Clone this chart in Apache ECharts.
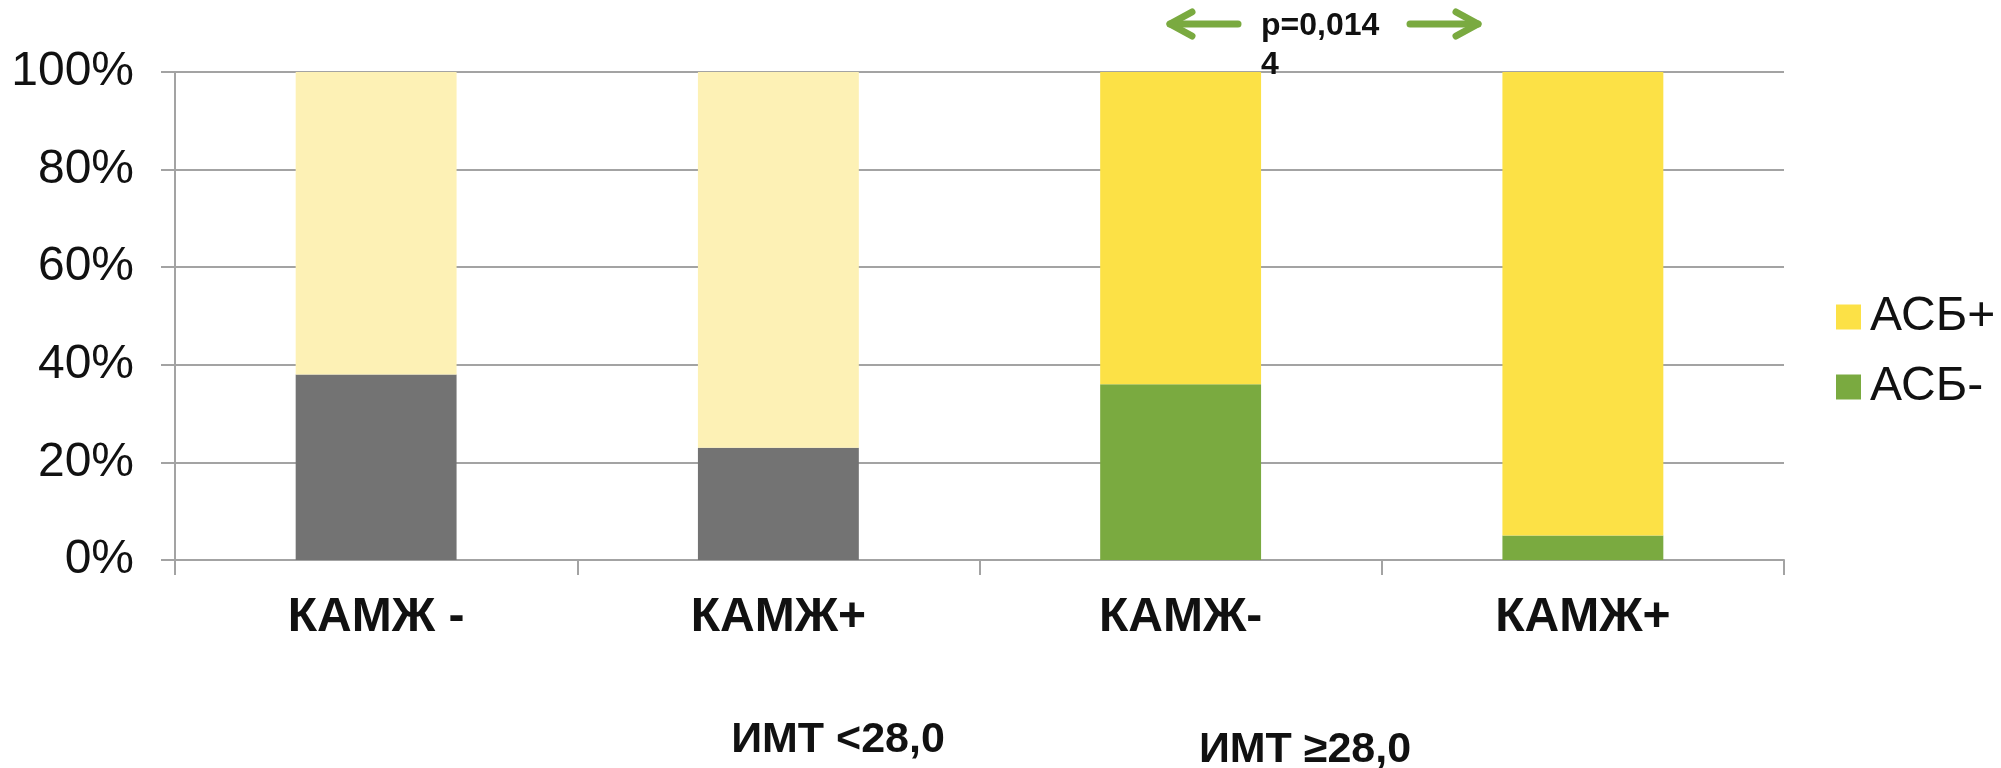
<!DOCTYPE html>
<html>
<head>
<meta charset="utf-8">
<script src="https://cdn.jsdelivr.net/npm/echarts@6/dist/echarts.min.js"></script>
<style>
  html, body { margin: 0; padding: 0; background: #fff; }
  #chart { width: 2001px; height: 768px; }
</style>
</head>
<body>
<div id="chart"></div>
<script>
// Categories along the x axis
const categories = ['КАМЖ -', 'КАМЖ+', 'КАМЖ-', 'КАМЖ+'];
// Share of patients, %
const asbNeg = [38, 23, 36, 5];
const asbPos = [62, 77, 64, 95];
// Y axis ticks
const yTicks = [0, 20, 40, 60, 80, 100];
// Group captions under the axis
const groupLabels = ['ИМТ <28,0', 'ИМТ ≥28,0'];
const pValueText = 'p=0,014\n4';

const FONT = '"Liberation Sans", Arial, sans-serif';
const GRAY = '#737373';
const PALE = '#FDF1B5';
const YELLOW = '#FCE146';
const GREEN = '#7AAA40';
const TEXT = '#111111';
const LINE = '#A3A3A3';

// first two columns (ИМТ <28,0) are drawn in neutral tones
const negColors = [GRAY, GRAY, GREEN, GREEN];
const posColors = [PALE, PALE, YELLOW, YELLOW];

const chart = echarts.init(document.getElementById('chart'), null, { renderer: 'canvas' });

const arrowStyle = { stroke: GREEN, lineWidth: 7, lineCap: 'round', lineJoin: 'round', fill: null };

chart.setOption({
  animation: false,
  backgroundColor: '#fff',
  textStyle: { fontFamily: FONT },
  grid: { left: 175, right: 217, top: 72, bottom: 208, containLabel: false, outerBoundsMode: 'none' },
  legend: {
    data: ['АСБ+', 'АСБ-'],
    orient: 'vertical',
    left: 1831,
    top: 288,
    icon: 'rect',
    itemWidth: 25,
    itemHeight: 25,
    itemGap: 22,
    selectedMode: false,
    textStyle: { fontSize: 48, lineHeight: 48, color: TEXT, fontFamily: FONT, padding: [0, 0, 0, 4] }
  },
  xAxis: {
    type: 'category',
    data: categories,
    axisLine: { lineStyle: { color: LINE, width: 2 } },
    axisTick: { show: true, length: 15, lineStyle: { color: LINE, width: 2 } },
    axisLabel: { fontSize: 48, fontWeight: 'bold', color: TEXT, margin: 34, fontFamily: FONT }
  },
  yAxis: {
    type: 'value',
    min: yTicks[0],
    max: yTicks[yTicks.length - 1],
    interval: yTicks[1] - yTicks[0],
    axisLine: { show: true, lineStyle: { color: LINE, width: 2 } },
    axisTick: { show: true, length: 14, lineStyle: { color: LINE, width: 2 } },
    axisLabel: { fontSize: 48, color: TEXT, margin: 41, formatter: '{value}%', fontFamily: FONT },
    splitLine: { show: true, lineStyle: { color: LINE, width: 2 } }
  },
  series: [
    {
      name: 'АСБ-',
      type: 'bar',
      stack: 'total',
      barWidth: '40%',
      itemStyle: { color: GREEN },
      data: asbNeg.map((v, i) => ({ value: v, itemStyle: { color: negColors[i] } }))
    },
    {
      name: 'АСБ+',
      type: 'bar',
      stack: 'total',
      barWidth: '40%',
      itemStyle: { color: YELLOW },
      data: asbPos.map((v, i) => ({ value: v, itemStyle: { color: posColors[i] } }))
    }
  ],
  graphic: [
    // p-value annotation with arrows
    { type: 'polyline', shape: { points: [[1238, 24], [1170, 24]] }, style: arrowStyle, z: 10 },
    { type: 'polyline', shape: { points: [[1192, 12], [1170, 24], [1192, 36]] }, style: arrowStyle, z: 10 },
    { type: 'polyline', shape: { points: [[1410, 24], [1478, 24]] }, style: arrowStyle, z: 10 },
    { type: 'polyline', shape: { points: [[1456, 12], [1478, 24], [1456, 36]] }, style: arrowStyle, z: 10 },
    {
      type: 'text', z: 10,
      style: { x: 1261, y: 7, text: pValueText, font: 'bold 32px ' + FONT, lineHeight: 39, fill: TEXT, verticalAlign: 'top', align: 'left' }
    },
    // group captions
    {
      type: 'text', z: 10,
      style: { x: 838, y: 740, text: groupLabels[0], font: 'bold 43px ' + FONT, fill: TEXT, align: 'center', verticalAlign: 'middle' }
    },
    {
      type: 'text', z: 10,
      style: { x: 1305, y: 750, text: groupLabels[1], font: 'bold 43px ' + FONT, fill: TEXT, align: 'center', verticalAlign: 'middle' }
    }
  ]
});
</script>
</body>
</html>
